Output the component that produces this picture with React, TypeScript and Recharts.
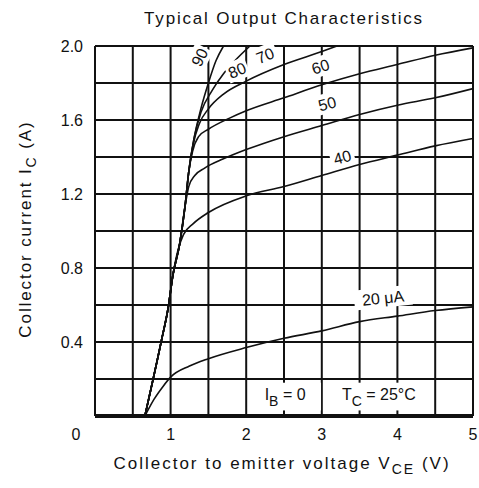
import React from 'react';
import { LineChart, Line, XAxis, YAxis, ReferenceLine, ReferenceArea, ReferenceDot } from 'recharts';

// axis ticks and grid
const vceTicks = [0, 1, 2, 3, 4, 5];
const icTicks = [0.4, 0.8, 1.2, 1.6, 2.0];
const vceGrid = [0.5, 1, 1.5, 2, 2.5, 3, 3.5, 4, 4.5, 5];
const icGrid = [0.2, 0.4, 0.6, 0.8, 1.0, 1.2, 1.4, 1.6, 1.8, 2.0];

// base current curves, [V_CE (V), I_C (A)]
const ib20: [number, number][] = [
  [0.66, 0], [0.78, 0.09], [0.9, 0.16], [1.0, 0.21], [1.25, 0.27], [1.5, 0.31], [2, 0.37],
  [2.5, 0.42], [3, 0.46], [3.5, 0.51], [4, 0.54], [4.5, 0.57], [5, 0.59],
];
const ib40: [number, number][] = [
  [0.66, 0], [0.88, 0.41], [0.97, 0.59], [1.03, 0.76], [1.1, 0.9], [1.17, 0.98], [1.3, 1.04],
  [1.5, 1.1], [2, 1.19], [2.5, 1.24], [3, 1.3], [3.5, 1.36], [4, 1.41], [4.5, 1.46], [5, 1.5],
];
const ib50: [number, number][] = [
  [0.66, 0], [0.88, 0.41], [0.97, 0.59], [1.03, 0.76], [1.12, 0.93], [1.19, 1.13], [1.24, 1.24],
  [1.32, 1.3], [1.45, 1.34], [1.7, 1.39], [2, 1.44], [2.5, 1.51], [3, 1.57], [3.5, 1.63],
  [4, 1.68], [4.5, 1.72], [5, 1.77],
];
const ib60: [number, number][] = [
  [0.66, 0], [0.88, 0.41], [0.97, 0.59], [1.03, 0.76], [1.12, 0.93], [1.19, 1.13], [1.24, 1.32],
  [1.29, 1.43], [1.37, 1.51], [1.5, 1.55], [1.78, 1.61], [2, 1.65], [2.5, 1.72], [3, 1.79],
  [3.5, 1.85], [4, 1.9], [4.5, 1.95], [5, 1.99],
];
const ib70: [number, number][] = [
  [0.66, 0], [0.88, 0.41], [0.97, 0.59], [1.03, 0.76], [1.12, 0.93], [1.19, 1.13], [1.24, 1.32],
  [1.3, 1.47], [1.38, 1.58], [1.5, 1.66], [1.7, 1.74], [2, 1.81], [2.5, 1.9], [3, 1.97], [3.2, 2.0],
];
const ib80: [number, number][] = [
  [0.66, 0], [0.88, 0.41], [0.97, 0.59], [1.03, 0.76], [1.12, 0.93], [1.19, 1.13], [1.24, 1.32],
  [1.31, 1.5], [1.4, 1.64], [1.55, 1.76], [1.7, 1.85], [1.85, 1.92], [2.05, 2.0],
];
const ib90: [number, number][] = [
  [0.66, 0], [0.88, 0.41], [0.97, 0.59], [1.03, 0.76], [1.12, 0.93], [1.19, 1.13], [1.24, 1.32],
  [1.31, 1.5], [1.4, 1.66], [1.5, 1.8], [1.6, 1.92], [1.7, 2.0],
];

const curveNames = ['20 μA', '40', '50', '60', '70', '80', '90'];
const curvePoints = [ib20, ib40, ib50, ib60, ib70, ib80, ib90];

const FONT = '"Liberation Sans", Arial, sans-serif';
const INK = '#111';

const XTick = (props: any) => {
  const { x, y, payload } = props;
  const shift = payload.value === 0 ? -19 : 0;
  return (
    <text x={x + shift} y={y} dy={14} textAnchor="middle" fontSize={16} fontFamily={FONT} fill={INK}>
      {payload.value}
    </text>
  );
};

const YTick = (props: any) => {
  const { x, y, payload } = props;
  return (
    <text x={x} y={y} dy={6} textAnchor="end" fontSize={16} fontFamily={FONT} fill={INK}>
      {Number(payload.value).toFixed(1)}
    </text>
  );
};

// white patch with a tilted curve label on it
const tagShape = (text: string, angle: number, w: number) => (props: any) => {
  const { cx, cy } = props;
  if (cx == null || cy == null) return <g />;
  return (
    <g transform={`rotate(${angle} ${cx} ${cy})`}>
      <rect x={cx - w / 2} y={cy - 10} width={w} height={20} fill="#fff" />
      <text x={cx} y={cy} dy={6} textAnchor="middle" fontSize={16} fontFamily={FONT} fill={INK}>
        {text}
      </text>
    </g>
  );
};

const boxShape = (main: string, sub: string, rest: string) => (props: any) => {
  const { x, y, width, height } = props;
  return (
    <g>
      <rect x={x} y={y} width={width} height={height} fill="#fff" />
      <text x={x + width / 2} y={y + 17} textAnchor="middle" fontSize={16} fontFamily={FONT} fill={INK}>
        {main}
        <tspan dy={6} fontSize={14}>{sub}</tspan>
        <tspan dy={-6}>{rest}</tspan>
      </text>
    </g>
  );
};

export default function App() {
  return (
    <div style={{ position: 'fixed', left: 0, top: 0, width: 479, height: 488, background: '#fff' }}>
      <LineChart width={479} height={488} margin={{ top: 46, right: 6, bottom: 42, left: 35 }}>
        <XAxis
          type="number"
          dataKey="vce"
          domain={[0, 5]}
          ticks={vceTicks}
          height={30}
          tickSize={0}
          tickMargin={10}
          tick={<XTick />}
          axisLine={{ stroke: INK, strokeWidth: 4 }}
          allowDataOverflow
        />
        <YAxis
          type="number"
          dataKey="ic"
          domain={[0, 2]}
          ticks={icTicks}
          width={60}
          tickSize={0}
          tickMargin={12}
          tick={<YTick />}
          axisLine={{ stroke: INK, strokeWidth: 2 }}
          allowDataOverflow
        />
        {vceGrid.map((v) => (
          <ReferenceLine key={`vx${v}`} x={v} stroke={INK} strokeWidth={2} />
        ))}
        {icGrid.map((v) => (
          <ReferenceLine key={`hy${v}`} y={v} stroke={INK} strokeWidth={2} />
        ))}
        {curvePoints.map((pts, i) => (
          <Line
            key={curveNames[i]}
            data={pts.map(([vce, ic]) => ({ vce, ic }))}
            dataKey="ic"
            type="monotone"
            stroke={INK}
            strokeWidth={1.6}
            dot={false}
            isAnimationActive={false}
          />
        ))}
        <ReferenceArea x1={2.04} x2={2.99} y1={0.03} y2={0.18} zIndex={1500} shape={boxShape('I', 'B', ' = 0')} />
        <ReferenceArea x1={3.04} x2={4.47} y1={0.03} y2={0.18} zIndex={1500} shape={boxShape('T', 'C', ' = 25°C')} />
        <ReferenceDot x={3.81} y={0.64} zIndex={1500} shape={tagShape(curveNames[0], -6, 58)} />
        <ReferenceDot x={3.27} y={1.4} zIndex={1500} shape={tagShape(curveNames[1], -15, 24)} />
        <ReferenceDot x={3.07} y={1.69} zIndex={1500} shape={tagShape(curveNames[2], -15, 26)} />
        <ReferenceDot x={2.98} y={1.89} zIndex={1500} shape={tagShape(curveNames[3], -18, 26)} />
        <ReferenceDot x={2.25} y={1.95} zIndex={1500} shape={tagShape(curveNames[4], -22, 24)} />
        <ReferenceDot x={1.88} y={1.87} zIndex={1500} shape={tagShape(curveNames[5], -22, 22)} />
        <ReferenceDot x={1.38} y={1.94} zIndex={1500} shape={tagShape(curveNames[6], -62, 22)} />
      </LineChart>
      <svg width={479} height={488} style={{ position: 'absolute', left: 0, top: 0, pointerEvents: 'none' }}>
        <text x={284} y={24} textAnchor="middle" fontSize={17} letterSpacing={1.8} fontFamily={FONT} fill={INK}>
          Typical Output Characteristics
        </text>
        <text x={282} y={469} textAnchor="middle" fontSize={17} letterSpacing={2} fontFamily={FONT} fill={INK}>
          Collector to emitter voltage  V
          <tspan dy={5} fontSize={14}>CE</tspan>
          <tspan dy={-5}> (V)</tspan>
        </text>
        <text
          transform="translate(31 229) rotate(-90)"
          textAnchor="middle"
          fontSize={17}
          letterSpacing={1.9}
          fontFamily={FONT}
          fill={INK}
        >
          Collector current  I
          <tspan dy={5} fontSize={14}>C</tspan>
          <tspan dy={-5}>  (A)</tspan>
        </text>
      </svg>
    </div>
  );
}
